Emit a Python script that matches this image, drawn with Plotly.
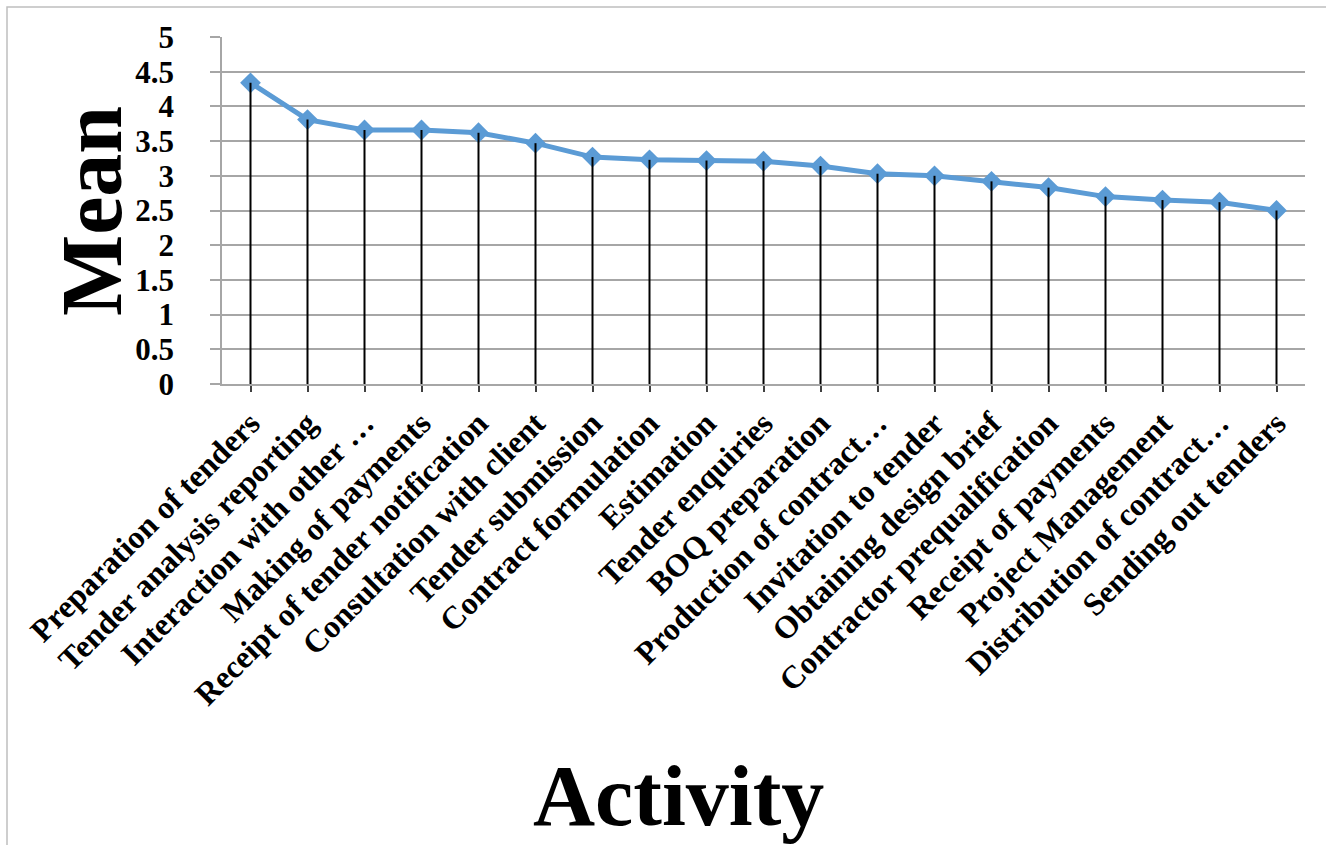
import plotly.graph_objects as go

# Activities ranked by mean score
activities = [
    "Preparation of tenders",
    "Tender analysis reporting",
    "Interaction with other …",
    "Making of payments",
    "Receipt of tender notification",
    "Consultation with client",
    "Tender submission",
    "Contract formulation",
    "Estimation",
    "Tender enquiries",
    "BOQ preparation",
    "Production of contract…",
    "Invitation to tender",
    "Obtaining design brief",
    "Contractor prequalification",
    "Receipt of payments",
    "Project Management",
    "Distribution of contract…",
    "Sending out tenders",
]
mean_scores = [4.34, 3.81, 3.66, 3.66, 3.62, 3.47, 3.27, 3.23, 3.22, 3.21,
               3.14, 3.03, 3.00, 2.92, 2.83, 2.70, 2.65, 2.62, 2.50]
y_ticks = [0, 0.5, 1, 1.5, 2, 2.5, 3, 3.5, 4, 4.5, 5]
y_tick_text = ["0", "0.5", "1", "1.5", "2", "2.5", "3", "3.5", "4", "4.5", "5"]

positions = list(range(len(activities)))

FONT = "Liberation Serif"
BLUE = "#5B9BD5"
GRID = "#A6A6A6"

# plot-area geometry in pixels
W, H = 1326, 845
L, R, T, B = 222, 21, 37, 461
PW, PH = W - L - R, H - T - B


def px_x(px):
    return (px - L) / PW


def px_y(py):
    return (H - B - py) / PH


fig = go.Figure()

# Mean line with diamond markers
fig.add_trace(go.Scatter(
    x=positions, y=mean_scores, mode="lines+markers",
    line=dict(color=BLUE, width=5),
    marker=dict(symbol="diamond", size=16, color=BLUE),
    showlegend=False, hoverinfo="skip",
))

# Drop lines from each point down to the category axis
drop_x, drop_y = [], []
for p, v in zip(positions, mean_scores):
    drop_x += [p, p, None]
    drop_y += [v, 0, None]
fig.add_trace(go.Scatter(
    x=drop_x, y=drop_y, mode="lines",
    line=dict(color="black", width=2),
    showlegend=False, hoverinfo="skip",
))

title_font = dict(family=FONT, size=86, color="black")

fig.update_layout(
    width=W, height=H,
    margin=dict(l=L, r=R, t=T, b=B),
    paper_bgcolor="white", plot_bgcolor="white",
    font=dict(family=FONT, color="black"),
    shapes=[dict(
        type="rect", xref="paper", yref="paper",
        x0=px_x(7), x1=px_x(W + 20), y0=px_y(H + 20), y1=px_y(7),
        line=dict(color="#BFBFBF", width=1.5), layer="below",
    )],
    annotations=[
        dict(text="<b>Activity</b>", xref="paper", yref="paper",
             x=px_x(678), y=px_y(796), xanchor="center", yanchor="middle",
             showarrow=False, font=title_font),
        dict(text="<b>Mean</b>", xref="paper", yref="paper", textangle=-90,
             x=px_x(92), y=px_y(211), xanchor="center", yanchor="middle",
             showarrow=False, font=title_font),
    ],
)

fig.update_xaxes(
    range=[-0.5, len(activities) - 0.5],
    tickmode="array", tickvals=positions, ticktext=activities,
    tickangle=-45, tickfont=dict(family=FONT, size=32, color="black", weight="bold"),
    ticks="outside", ticklen=6, tickcolor="#404040", tickwidth=1.5,
    showline=True, linecolor=GRID, linewidth=1.5,
    showgrid=False, zeroline=False, automargin=False,
)
fig.update_yaxes(
    range=[0, 5], tickmode="array", tickvals=y_ticks, ticktext=y_tick_text,
    tickfont=dict(family=FONT, size=31, color="black", weight="bold"),
    ticks="outside", ticklen=10, tickcolor=GRID, tickwidth=1.5,
    ticklabelstandoff=30,
    showline=True, linecolor=GRID, linewidth=1.5,
    showgrid=True, gridcolor=GRID, gridwidth=1.5,
    zeroline=False, automargin=False,
)

fig.write_html("out.html")
